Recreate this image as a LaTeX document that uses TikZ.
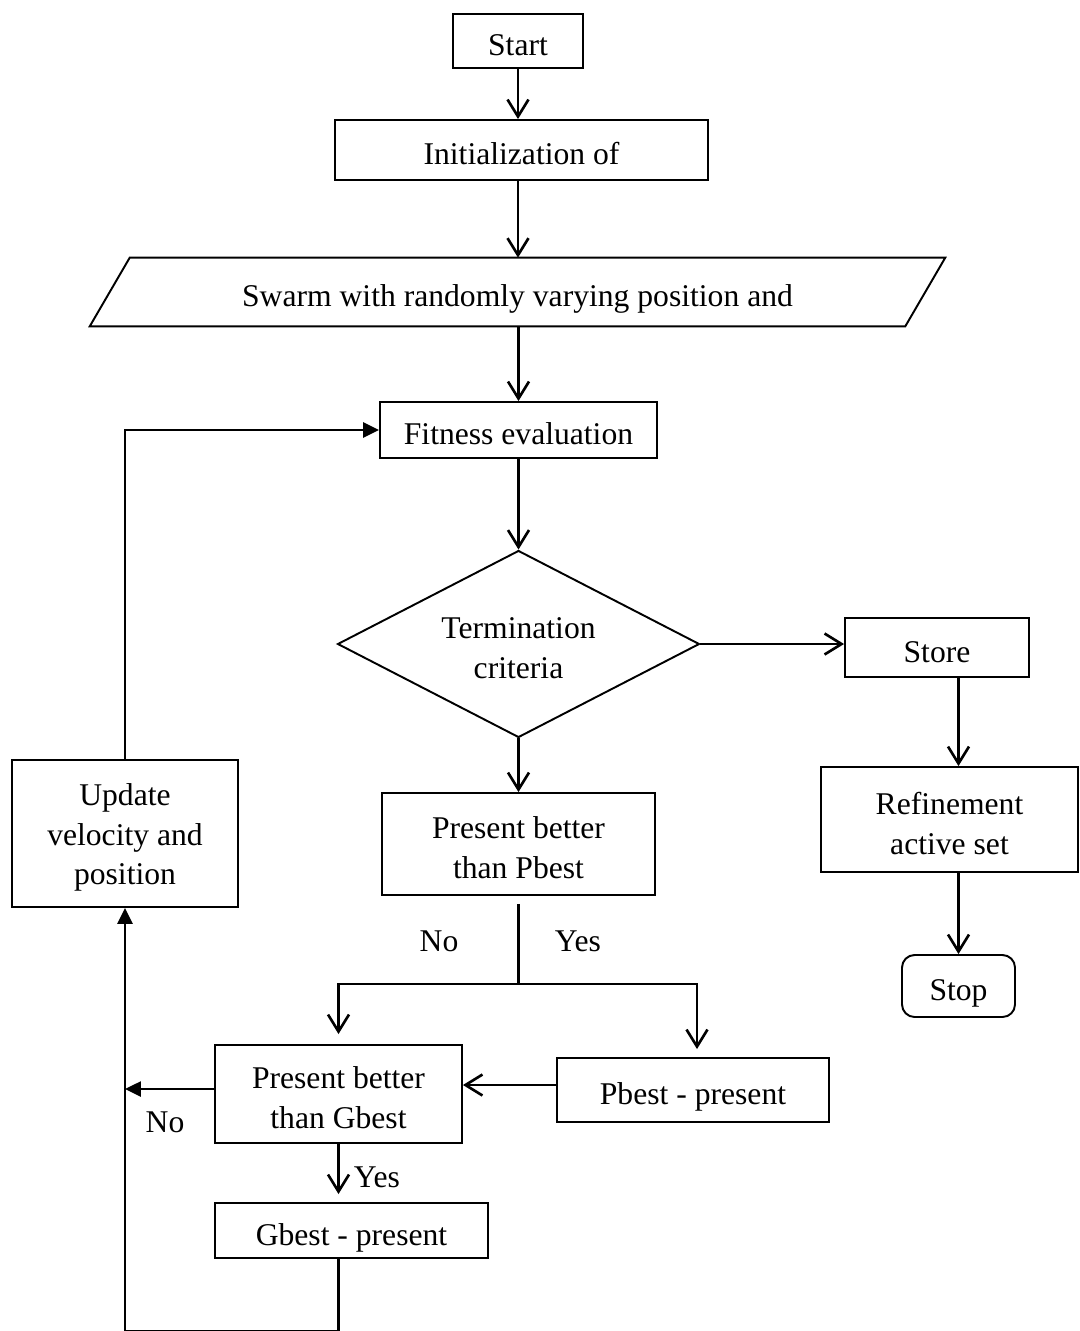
\documentclass[tikz,border=0pt]{standalone}
\usepackage{fontspec}
\setmainfont{Liberation Serif}
\usetikzlibrary{positioning}
\usetikzlibrary{arrows.meta}
\usetikzlibrary{shapes.geometric}
\newcommand{\lw}{1.1pt}
\newcommand{\cw}{1.5pt}
\newcommand{\slant}{0.4cm}
\newcommand{\lift}{\rule{0pt}{17pt}}
\tikzset{
	box/.style={draw, line width=\lw, rectangle, inner sep=2pt, align=center},
	onebox/.style={draw, line width=\lw, rectangle, inner sep=2pt, text depth=0pt, execute at begin node=\lift},
	decision/.style={draw, line width=\lw, diamond, aspect=2, inner sep=0pt, align=center},
	terminal/.style={onebox, rounded corners=0.25cm},
	link/.style={line width=\cw, -{Straight Barb[length=0.34cm,width=0.42cm]}},
	loopback/.style={line width=\cw, -{Triangle[length=0.32cm,width=0.3cm]}},
	plain/.style={line width=\cw},
	tag/.style={inner sep=0pt}
}

\begin{document}
\begin{tikzpicture}[x=0.02cm, y=-0.02cm, font=\fontsize{18}{22.7}\selectfont]
	\useasboundingbox (0,0) rectangle (1079,1331);

	\node[onebox, minimum width=2.6cm, minimum height=1.08cm] (start) at (518,41) {Start};
	\node[onebox, minimum width=7.46cm, minimum height=1.2cm] (init) at (521.5,150) {Initialization of};
	\node[rectangle, inner sep=0pt, text depth=0pt, execute at begin node=\lift, minimum width=16.3cm, minimum height=1.36cm] (swarm) at (517.5,292) {Swarm with randomly varying position and};
	\draw[line width=\lw] ([xshift=\slant]swarm.north west) -- ([xshift=\slant]swarm.north east)
				-- ([xshift=-\slant]swarm.south east) -- ([xshift=-\slant]swarm.south west) -- cycle;
	\node[onebox, minimum width=5.54cm, minimum height=1.12cm] (fitness) at (518.5,430) {Fitness evaluation};
	\node[decision, minimum width=7.24cm, minimum height=3.74cm] (term) at (518.5,644) {\lift Termination\\criteria};
	\node[onebox, minimum width=3.68cm, minimum height=1.18cm] (store) at (937,647.5) {Store};
	\node[box, minimum width=5.14cm, minimum height=2.1cm] (refine) at (949.5,819.5) {\lift Refinement\\active set};
	\node[terminal, minimum width=2.26cm, minimum height=1.24cm] (stop) at (958.5,986) {Stop};
	\node[box, minimum width=5.46cm, minimum height=2.04cm] (cmpP) at (518.5,844) {\lift Present better\\than Pbest};
	\node[onebox, minimum width=5.44cm, minimum height=1.28cm] (pbpres) at (693,1090) {Pbest - present};
	\node[box, minimum width=4.94cm, minimum height=1.96cm] (cmpG) at (338.5,1094) {\lift Present better\\than Gbest};
	\node[onebox, minimum width=5.46cm, minimum height=1.1cm] (gbpres) at (351.5,1230.5) {Gbest - present};
	\node[box, minimum width=4.52cm, minimum height=2.94cm] (update) at (125,833.5) {\lift Update\\velocity and\\position};

	\node[tag] (noP) at (439,941) {No};
	\node[tag] (yesP) at (578,941) {Yes};
	\node[tag] (noG) at (165,1122) {No};
	\node[tag] (yesG) at (377,1177) {Yes};

	\draw[link] (start.south) -- (start.south |- init.north);
	\draw[link] (init.south -| start.south) -- (swarm.north -| start.south);
	\draw[link] (swarm.south -| fitness.north) -- (fitness.north);
	\draw[link] (fitness.south) -- (term.north);
	\draw[link] (term.east) -- (term.east -| store.west);
	\draw[link] (stop.north |- store.south) -- (stop.north |- refine.north);
	\draw[link] (stop.north |- refine.south) -- (stop.north);
	\draw[link] (term.south) -- (cmpP.north);

	\draw[plain] ([yshift=-0.16cm]cmpP.south) -- ++(0,80) coordinate (split);
	\draw[link] (split) -| ([yshift=0.2cm]cmpG.north);
	\draw[link] (split) -| ([xshift=0.08cm,yshift=0.16cm]pbpres.north);
	\draw[link] ([yshift=0.1cm]pbpres.west) -- ([yshift=0.1cm]pbpres.west -| cmpG.east);
	\draw[loopback] ([yshift=0.1cm]cmpG.west) -- ([yshift=0.1cm]cmpG.west -| update.south);
	\draw[link] (cmpG.south) -- ([yshift=0.16cm]cmpG.south |- gbpres.north);
	\draw[loopback] (cmpG.south |- gbpres.south) -- ++(0,72) -| (update.south);
	\draw[loopback] (update.north) |- (fitness.west);
\end{tikzpicture}
\end{document}
